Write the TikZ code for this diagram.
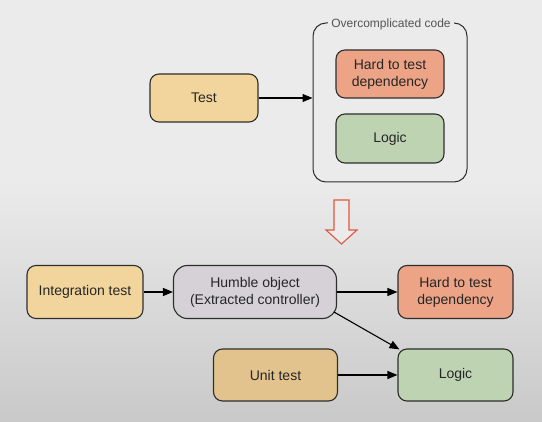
\documentclass[tikz,border=0pt]{standalone}
\usepackage{fontspec}
\setmainfont{Liberation Sans}
\usetikzlibrary{arrows.meta}
\definecolor{bgtop}{HTML}{EBEBEB}
\definecolor{bgbot}{HTML}{C9C9C9}
\definecolor{edge}{HTML}{2E2E2E}
\definecolor{testfill}{HTML}{F2D59C}
\definecolor{unitfill}{HTML}{E2C38E}
\definecolor{hardfill}{HTML}{ECA386}
\definecolor{logicfill}{HTML}{BDD3B1}
\definecolor{humblefill}{HTML}{D5D1D7}
\definecolor{redline}{HTML}{E0573C}
\definecolor{labelgray}{HTML}{555555}
\tikzset{
  box/.style={draw=edge, line width=1.1pt, rounded corners=9pt, align=center,
    inner sep=0pt, text=black!85, font=\fontsize{14}{17}\selectfont},
  conn/.style={draw=black, line width=1.1pt, -{Triangle[length=10pt,width=8pt]}},
  groupbox/.style={draw=edge, line width=1pt, rounded corners=13pt, inner sep=0pt},
}
\begin{document}
\begin{tikzpicture}[x=1pt,y=-1pt]
\useasboundingbox (0,0) rectangle (542,422);
\fill[bgtop] (0,0) rectangle (542,181);
\shade[top color=bgtop, bottom color=bgbot] (0,180) rectangle (542,422);

% top part
\node[groupbox, minimum width=154pt, minimum height=159pt] (container) at (390,102.5) {};
\node[fill=bgtop, inner sep=3pt, text=labelgray, font=\fontsize{12}{14}\selectfont] (clabel) at (391,24) {Overcomplicated code};
\node[box, fill=testfill, minimum width=108pt, minimum height=48pt] (test) at (204,98) {Test};
\node[box, fill=hardfill, minimum width=108pt, minimum height=48pt] (hard1) at (390,74) {Hard to test\\dependency};
\node[box, fill=logicfill, minimum width=108pt, minimum height=49pt] (logic1) at (390,138.5) {Logic};
\draw[conn] (test) -- (container.west |- test);

% block arrow
\draw[redline, line width=1.1pt, fill=bgtop, line join=miter] (334,200) -- (349,200) -- (349,230) -- (357,230) -- (341.5,244) -- (326,230) -- (334,230) -- cycle;

% bottom part
\node[box, fill=testfill, minimum width=116pt, minimum height=53pt] (integ) at (85,292) {Integration test};
\node[box, fill=humblefill, minimum width=163pt, minimum height=53pt, rounded corners=14pt] (humble) at (255,292) {Humble object\\(Extracted controller)};
\node[box, fill=hardfill, minimum width=115pt, minimum height=53pt] (hard2) at (455.5,292) {Hard to test\\dependency};
\node[box, fill=unitfill, minimum width=124pt, minimum height=52pt] (unit) at (275.5,375) {Unit test};
\node[box, fill=logicfill, minimum width=115pt, minimum height=52pt] (logic2) at (455.5,375) {Logic};

\draw[conn] (integ) -- (humble);
\draw[conn] (humble) -- (hard2);
\draw[conn] ([xshift=-3pt,yshift=7pt]humble.south east) -- ([xshift=2pt,yshift=-1pt]logic2.north west);
\draw[conn] (unit) -- (logic2);
\end{tikzpicture}
\end{document}
